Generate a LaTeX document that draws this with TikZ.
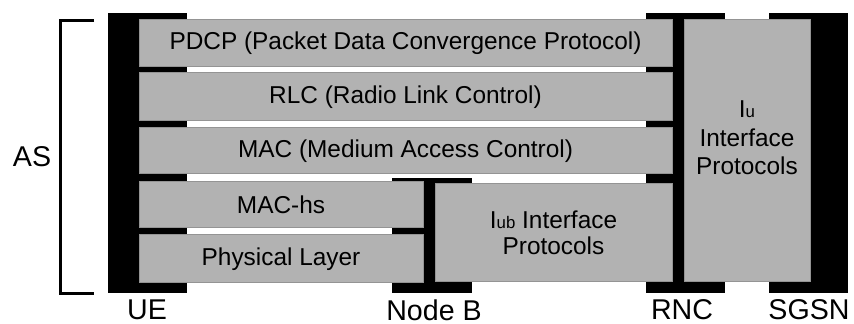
\documentclass[tikz,border=0pt]{standalone}
\usepackage{fontspec}
\setmainfont{Liberation Sans}
\tikzset{
  layer/.style={draw=black!42, fill=black!30, line width=0.5pt, inner sep=0pt,
    font=\fontsize{12.2}{14}\selectfont, align=center},
  entity/.style={font=\fontsize{14.3}{16}\selectfont, inner sep=0pt},
}
\newcommand{\smallsub}[1]{{\fontsize{8.4}{10}\selectfont #1}}

\begin{document}
\begin{tikzpicture}[x=0.5pt, y=-0.5pt]
  \useasboundingbox (0,0) rectangle (854,324);

  % Network elements (black bars behind the layers)
  \fill (108,13) rectangle (187,293);
  \fill (392,178) rectangle (472,293);
  \fill (646,13) rectangle (725,293);
  \fill (769,13) rectangle (848,293);

  % Protocol layers
  \node[layer, minimum width=266.5pt, minimum height=23.5pt] (pdcp) at (405.5,43.5)
    {PDCP (Packet Data Convergence Protocol)};
  \node[layer, minimum width=266.5pt, minimum height=24pt] (rlc) at (405.5,97)
    {RLC (Radio Link Control)};
  \node[layer, minimum width=266.5pt, minimum height=23pt] (mac) at (405.5,151)
    {MAC (Medium Access Control)};
  \node[layer, minimum width=142pt, minimum height=23pt] (machs) at (281,205)
    {MAC-hs};
  \node[layer, minimum width=142pt, minimum height=24pt] (phy) at (281,259)
    {Physical Layer};
  \node[layer, minimum width=118.5pt, minimum height=49pt] (iub) at (553.5,233) {};
  \node[layer, minimum width=63pt, minimum height=131pt] (iu) at (747,151) {};

  % Interface texts
  \node[align=center, font=\fontsize{12.2}{13}\selectfont] (iubtext) at (iub.center)
    {I\smallsub{ub} Interface\\Protocols};
  \node[align=center, font=\fontsize{12.2}{14.3}\selectfont] (iutext) at (747,138)
    {I\smallsub{u}\\Interface\\Protocols};

  % Access stratum bracket
  \coordinate (astop) at (94,21);
  \coordinate (asbot) at (94,294);
  \draw[line width=1.5pt] (astop) -- ++(-34,0) |- (asbot);
  \node[entity] (as) at (32,157) {AS};

  % Entity labels
  \node[entity] (ue) at (147,310) {UE};
  \node[entity] (nodeb) at (434,310) {Node B};
  \node[entity] (rnc) at (682,310) {RNC};
  \node[entity] (sgsn) at (809,310) {SGSN};
\end{tikzpicture}
\end{document}
